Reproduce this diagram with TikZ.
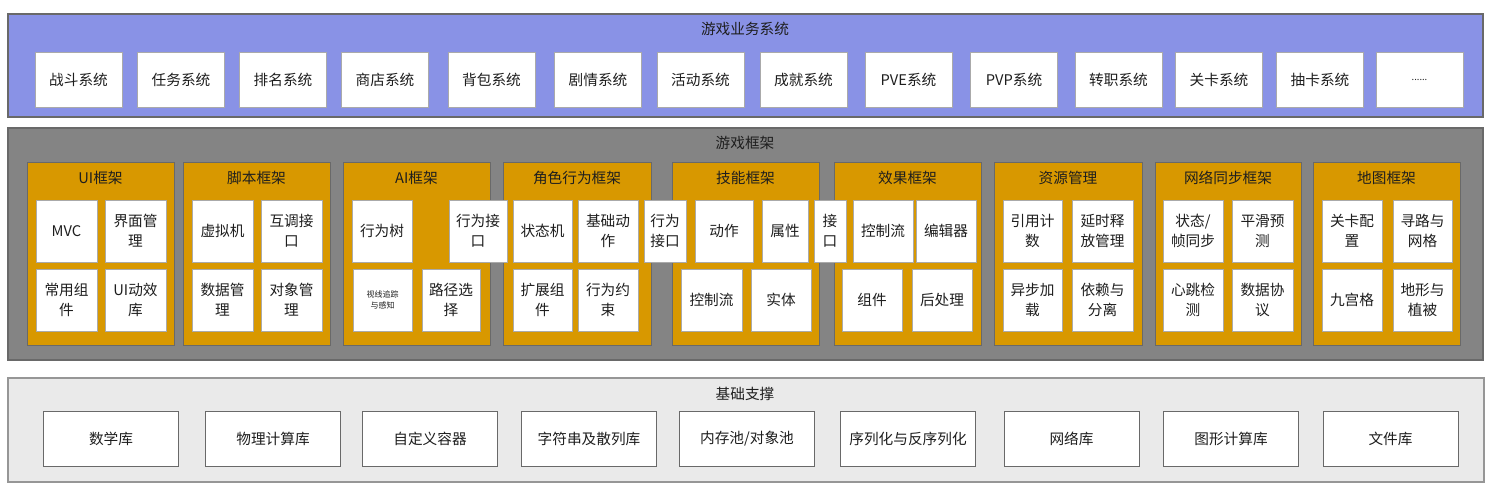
\documentclass[tikz,border=0pt]{standalone}
\usepackage{fontspec}
\newfontfamily\cjk{Noto Sans CJK SC}
\usepackage{xcolor}
\usetikzlibrary{positioning}
\definecolor{bizbg}{RGB}{137,146,230}
\definecolor{framebg}{RGB}{132,132,132}
\definecolor{modbg}{RGB}{216,152,0}
\definecolor{basebg}{RGB}{234,234,234}
\definecolor{edgegray}{RGB}{105,105,105}
\definecolor{boxedge}{RGB}{170,170,170}
\definecolor{txt}{RGB}{30,30,30}

\begin{document}
\begin{tikzpicture}[x=0.75pt, y=-0.75pt,
    font=\cjk\fontsize{11}{15}\selectfont, text=txt,
    band/.style={draw=edgegray, line width=0.9pt, inner sep=0pt},
    modframe/.style={draw=edgegray, fill=modbg, line width=0.6pt, minimum height=183*0.75pt, inner sep=0pt},
    cell/.style={draw=boxedge, fill=white, line width=0.4pt, minimum height=62*0.75pt, inner sep=0pt, align=center},
    sysbox/.style={draw=boxedge, fill=white, line width=0.4pt, minimum width=87*0.75pt, minimum height=55*0.75pt, inner sep=0pt},
    basebox/.style={draw=edgegray, fill=white, line width=0.5pt, minimum width=135*0.75pt, minimum height=55*0.75pt, inner sep=0pt}]
    \useasboundingbox (0,0) rectangle (1487,494);

    % Game business systems
    \node[band, fill=bizbg, minimum width=1475*0.75pt, minimum height=103*0.75pt] (biz) at (745.5,65.5) {};
    \node (biztitle) at (745,29) {游戏业务系统};
    \foreach \x/\label [count=\i] in {78.5/战斗系统, 181/任务系统, 283/排名系统, 385/商店系统,
        491.5/背包系统, 598/剧情系统, 700.5/活动系统, 803.5/成就系统, 908.5/PVE系统,
        1014/PVP系统, 1118.5/转职系统, 1219/关卡系统, 1320/抽卡系统} {
        \node[sysbox] (sys\i) at (\x,79.5) {\label};
    }
    \node[sysbox, font=\cjk\fontsize{7}{9}\selectfont] (sysmore) at (1419.5,79.5) {......};

    % Game framework
    \node[band, fill=framebg, minimum width=1475*0.75pt, minimum height=232*0.75pt] (fw) at (745.5,244) {};
    \node (fwtitle) at (745,143) {游戏框架};
    \foreach \x/\w/\label [count=\i] in {100.5/147/UI框架, 256.5/147/脚本框架, 416.5/147/AI框架,
        577/148/角色行为框架, 745.5/147/技能框架, 907.5/147/效果框架, 1068/148/资源管理,
        1228/146/网络同步框架, 1386.5/147/地图框架} {
        \node[modframe, minimum width=\w*0.75pt] (mod\i) at (\x,253.5) {};
        \node (modtitle\i) at (\x,178) {\label};
    }

    % Modules, first row
    \foreach \x/\w/\label [count=\i] in {66.5/61/{MVC}, 135.5/61/{界面管\\理}, 222.5/61/{虚拟机},
        291.5/61/{互调接\\口}, 382/60/{行为树}, 478/58/{行为接\\口}, 542.5/59/{状态机},
        608/60/{基础动\\作}, 665/42/{行为\\接口}, 724/58/{动作}, 785/46/{属性}, 830/32/{接\\口},
        883/60/{控制流}, 946/60/{编辑器}, 1032.5/59/{引用计\\数}, 1102.5/61/{延时释\\放管理},
        1193/60/{状态/\\帧同步}, 1262.5/61/{平滑预\\测}, 1352/60/{关卡配\\置}, 1422.5/59/{寻路与\\网格}} {
        \node[cell, minimum width=\w*0.75pt] (top\i) at (\x,231) {\label};
    }

    % Modules, second row
    \foreach \x/\w/\label [count=\i] in {66.5/61/{常用组\\件}, 135.5/61/{UI动效\\库}, 222.5/61/{数据管\\理},
        291.5/61/{对象管\\理}, 451/58/{路径选\\择}, 542.5/59/{扩展组\\件}, 608/60/{行为约\\束},
        711.5/61/{控制流}, 781/60/{实体}, 872/60/{组件}, 942/60/{后处理}, 1032.5/59/{异步加\\载},
        1102.5/61/{依赖与\\分离}, 1193/60/{心跳检\\测}, 1262.5/61/{数据协\\议}, 1352/60/{九宫格},
        1422.5/59/{地形与\\植被}} {
        \node[cell, minimum width=\w*0.75pt] (bot\i) at (\x,300) {\label};
    }
    \node[cell, minimum width=59*0.75pt, font=\cjk\fontsize{6}{8}\selectfont] (sense) at (382.5,300) {视线追踪\\与感知};

    % Basic support
    \node[band, fill=basebg, draw=edgegray!70, minimum width=1476*0.75pt, minimum height=104*0.75pt] (base) at (746,430) {};
    \node (basetitle) at (745,394) {基础支撑};
    \foreach \x/\label [count=\i] in {111/数学库, 273/物理计算库, 430/自定义容器, 589/字符串及散列库,
        747/{内存池/对象池}, 908/序列化与反序列化, 1071.5/网络库, 1231/图形计算库, 1390.5/文件库} {
        \node[basebox] (lib\i) at (\x,438.5) {\label};
    }
\end{tikzpicture}
\end{document}
